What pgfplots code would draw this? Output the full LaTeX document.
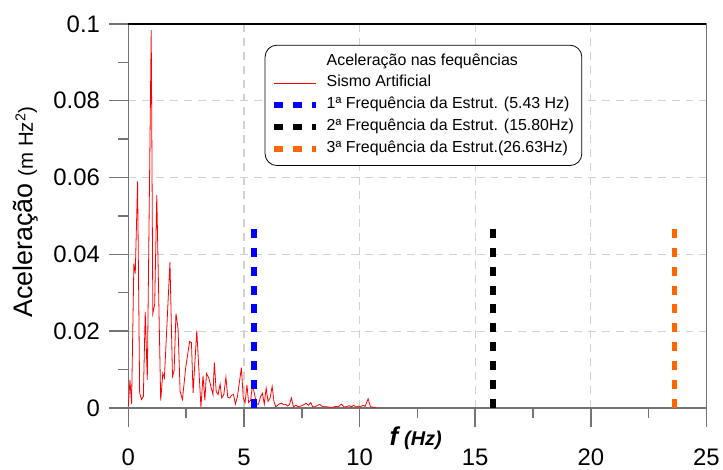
\documentclass[border=0pt]{standalone}
\usepackage{fontspec}
\setmainfont{Liberation Sans}
\usepackage{pgfplots}
\pgfplotsset{compat=1.18}
\definecolor{gridgray}{gray}{0.82}
\definecolor{axgray}{gray}{0.45}
\definecolor{dkorange}{RGB}{255,102,0}
\begin{document}
\begin{tikzpicture}
\begin{axis}[
  scale only axis,
  width=581pt, height=386pt,
  xmin=0, xmax=25, ymin=0, ymax=0.1,
  clip=false,
  xtick={0,5,10,15,20,25},
  ytick={0,0.02,0.04,0.06,0.08,0.1},
  yticklabels={0,0.02,0.04,0.06,0.08,0.1},
  scaled y ticks=false,
  minor x tick num=1, minor y tick num=1,
  tick align=outside, tick pos=left,
  major tick length=19pt, minor tick length=10pt,
  every tick/.style={axgray, line width=1.5pt},
  axis line style={axgray, line width=1.5pt},
  grid=major,
  major grid style={gridgray, line width=1.2pt, dash pattern=on 8pt off 6pt},
  /pgf/number format/assume math mode=true,
  tick label style={font=\fontsize{24}{28}\selectfont},
  xticklabel style={yshift=-19pt},
  yticklabel style={xshift=-6pt},
  xlabel={\bfseries\itshape{\fontsize{26}{30}\selectfont f}\hspace{6pt}{\fontsize{20}{24}\selectfont (Hz)}},
  xlabel style={at={(rel axis cs:0.497,-0.08)}, anchor=center},
  ylabel={{\fontsize{27}{30}\selectfont Aceleração}\hspace{7pt}{\fontsize{20.5}{24}\selectfont (m Hz\textsuperscript{2})}},
  ylabel style={at={(rel axis cs:-0.177,0.51)}, anchor=center, rotate=0},
  legend style={at={(rel axis cs:0.2358,0.9456)}, anchor=north west,
    draw=black, line width=0.8pt, rounded corners=12pt,
    font=\fontsize{16}{18}\selectfont,
    inner xsep=6pt, inner ysep=7pt, row sep=3pt,
    nodes={inner sep=2pt, text height=11pt, text depth=4pt}},
  legend cell align=left,
  legend image code/.code={\draw[#1] (0pt,0pt) -- (42pt,0pt); \path (48pt,0pt);},
]
\addlegendimage{empty legend}
\addlegendentry{Aceleração nas fequências}
\addlegendimage{legend image code/.code={\fill[fill=red, draw=none, sharp corners] (0pt,-0.8pt) rectangle (42pt,0.8pt); \path[draw=none] (48pt,0pt);}}
\addlegendentry{Sismo Artificial}
\addplot[draw=red, line width=0.8pt, forget plot] coordinates {
(0,0.0005) (0.07,0.0073) (0.14,0.001) (0.24,0.0376) (0.30,0.035) (0.40,0.059)
(0.49,0.0039) (0.57,0.0022) (0.65,0.003) (0.73,0.025) (0.82,0.0073) (0.99,0.0984)
(1.06,0.0246) (1.14,0.027) (1.23,0.0554) (1.40,0.0019) (1.49,0.009) (1.56,0.0078)
(1.80,0.038) (1.91,0.0082) (1.98,0.0096) (2.06,0.0246) (2.15,0.0207) (2.24,0.0043)
(2.34,0.0022) (2.48,0.0104) (2.65,0.0173) (2.73,0.017) (2.80,0.0039) (2.96,0.0201)
(3.14,0.0002) (3.23,0.0084) (3.31,0.002) (3.38,0.009) (3.48,0.0078) (3.57,0.0056)
(3.66,0.0035) (3.72,0.0118) (3.80,0.0043) (3.88,0.0035) (3.97,0.0062) (4.04,0.0026)
(4.13,0.0035) (4.22,0.008) (4.30,0.0028) (4.39,0.0026) (4.46,0.0033) (4.55,0.0035)
(4.63,0.001) (4.72,0.003) (4.89,0.0105) (4.97,0.0026) (5.05,0.0014) (5.13,0.006)
(5.20,0.0014) (5.29,0.002) (5.37,0.006) (5.46,0.0035) (5.55,0.001) (5.63,0.001)
(5.72,0.003) (5.80,0.0038) (5.88,0.001) (5.96,0.0052) (6.04,0.0017) (6.13,0.0026)
(6.22,0.0056) (6.30,0.0016) (6.38,0.0003) (6.47,0.0008) (6.55,0.0011) (6.64,0.0012)
(6.72,0.0008) (6.81,0.0009) (6.89,0.0005) (6.97,0.0009) (7.05,0.0026) (7.14,0.0003)
(7.24,0.0007) (7.36,0.0003) (7.50,0.0006) (7.60,0.0009) (7.69,0.0012) (7.79,0.0007)
(7.89,0.0014) (7.97,0.0003) (8.08,0.0003) (8.18,0.0007) (8.29,0.0009) (8.36,0.0005)
(8.46,0.0003) (8.58,0.0003) (8.72,0.0002) (8.86,0.0002) (8.96,0.0004) (9.08,0.0003)
(9.22,0.001) (9.32,0.0003) (9.44,0.0003) (9.55,0.0006) (9.65,0.0003) (9.75,0.0007)
(9.84,0.0002) (9.94,0.0005) (10.04,0.0003) (10.15,0.0007) (10.24,0.0004) (10.37,0.0024)
(10.47,0.0003) (10.58,0.0002) (10.73,0)
};
\addplot[draw=blue, line width=6pt, dash pattern=on 9pt off 10pt] coordinates {(5.43,0) (5.43,0.0472)};
\addlegendentry{1ª Frequência da Estrut. (5.43 Hz)}
\addplot[draw=black, line width=6pt, dash pattern=on 9pt off 10pt] coordinates {(15.78,0) (15.78,0.0472)};
\addlegendentry{2ª Frequência da Estrut. (15.80Hz)}
\addplot[draw=dkorange, line width=6pt, dash pattern=on 9pt off 10pt] coordinates {(23.62,0) (23.62,0.0472)};
\addlegendentry{3ª Frequência da Estrut.(26.63Hz)}
\draw[black, line width=1.5pt] (rel axis cs:0,1) -- (rel axis cs:1,1);
\path (rel axis cs:-0.222,-0.1399) rectangle (rel axis cs:1.0224,1.0622);
\end{axis}
\end{tikzpicture}
\end{document}
